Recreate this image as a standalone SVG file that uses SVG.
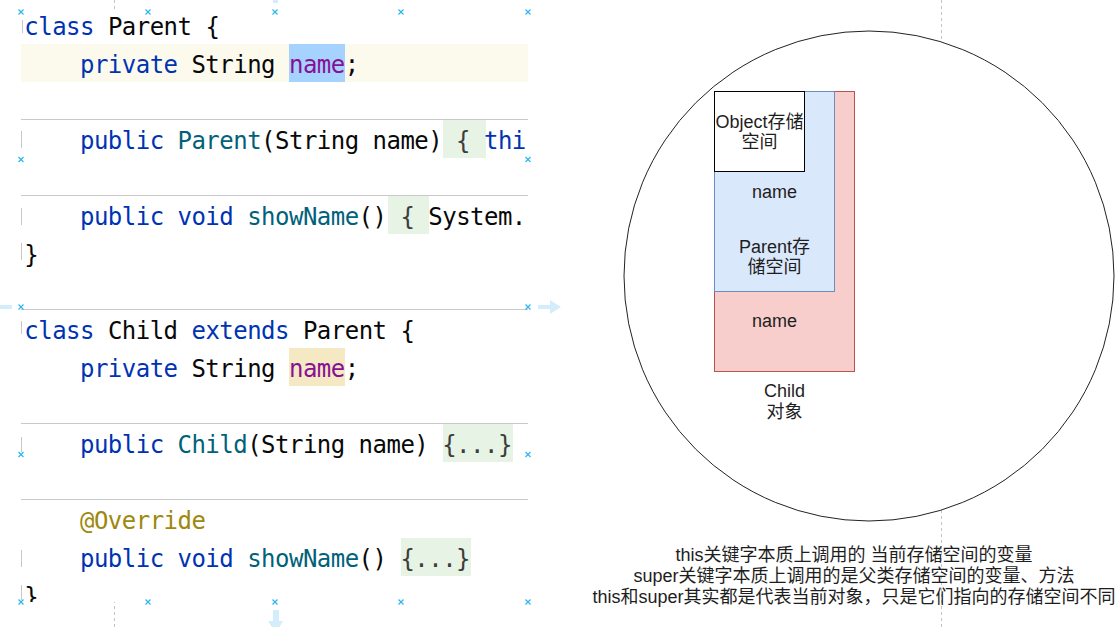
<svg xmlns="http://www.w3.org/2000/svg" width="1120" height="627" viewBox="0 0 1120 627">
  <style>
    .code { font-family: "DejaVu Sans Mono", "Liberation Mono", monospace; font-size: 24px; letter-spacing: -0.52px; fill: #080808; }
    .kw { fill: #0033b3; }
    .mt { fill: #00627a; }
    .fd { fill: #871094; }
    .an { fill: #9e880d; }
    .fo { fill: #3d3d3d; }
    .sep { stroke: #c9c9c9; stroke-width: 1; }
    .gut { stroke: #c8c8c8; stroke-width: 1; }
    .guide { stroke: #c4c4c4; stroke-width: 1; stroke-dasharray: 3 3; }
    .hx { stroke: #29b6f2; stroke-width: 1.2; fill: none; }
    .harrow { fill: #d3edfa; }
    .lbl { font-family: "Liberation Sans", "Noto Sans CJK SC", sans-serif; font-size: 18px; fill: #1e1e1e; text-anchor: middle; }
  </style>
  <defs>
    <clipPath id="codeClip"><rect x="21" y="12" width="507" height="590"/></clipPath>
    <path id="xm" d="M-2.5,-2.5 L2.5,2.5 M-2.5,2.5 L2.5,-2.5"/>
  </defs>

  <rect width="1120" height="627" fill="#ffffff"/>

  <!-- guides -->
  <g id="guides">
    <line class="guide" x1="114.5" y1="0" x2="114.5" y2="627"/>
    <line class="guide" x1="941.5" y1="0" x2="941.5" y2="627"/>
  </g>

  <!-- code screenshot -->
  <g id="code" clip-path="url(#codeClip)">
    <rect x="21" y="12" width="507" height="590" fill="#ffffff"/>
    <rect x="21" y="44" width="507" height="38" fill="#fcfaed"/>
    <rect x="289" y="44" width="56" height="38" fill="#a6d2ff"/>
    <rect x="289" y="348" width="56" height="38" fill="#f5e9c4"/>
    <rect x="443" y="120" width="43" height="38" fill="#e7f3e4"/>
    <rect x="388" y="196" width="41" height="38" fill="#e7f3e4"/>
    <rect x="443" y="424" width="70" height="38" fill="#e7f3e4"/>
    <rect x="401" y="538" width="70" height="38" fill="#e7f3e4"/>

    <line class="sep" x1="21" y1="119.5" x2="528" y2="119.5"/>
    <line class="sep" x1="21" y1="195.5" x2="528" y2="195.5"/>
    <line class="sep" x1="21" y1="309.5" x2="528" y2="309.5"/>
    <line class="sep" x1="21" y1="423.5" x2="528" y2="423.5"/>
    <line class="sep" x1="21" y1="499.5" x2="528" y2="499.5"/>

    <line class="gut" x1="22.5" y1="20" x2="22.5" y2="33"/>
    <line class="gut" x1="21.5" y1="131" x2="21.5" y2="148"/>
    <line class="gut" x1="21.5" y1="208" x2="21.5" y2="225"/>
    <line class="gut" x1="21.5" y1="243" x2="21.5" y2="260"/>
    <line class="gut" x1="21.5" y1="321" x2="21.5" y2="334"/>
    <line class="gut" x1="21.5" y1="437" x2="21.5" y2="452"/>
    <line class="gut" x1="21.5" y1="550" x2="21.5" y2="567"/>
    <line class="gut" x1="21.5" y1="585" x2="21.5" y2="600"/>

    <text class="code" x="24.3" y="34.8"><tspan class="kw">class</tspan> Parent {</text>
    <text class="code" x="80" y="72.8"><tspan class="kw">private</tspan> String <tspan class="fd">name</tspan>;</text>
    <text class="code" x="80" y="148.8"><tspan class="kw">public</tspan> <tspan class="mt">Parent</tspan>(String name) <tspan class="fo">{</tspan> <tspan class="kw">thi</tspan></text>
    <text class="code" x="80" y="224.8"><tspan class="kw">public</tspan> <tspan class="kw">void</tspan> <tspan class="mt">showName</tspan>() <tspan class="fo">{</tspan> System.</text>
    <text class="code" x="24.3" y="262.8">}</text>
    <text class="code" x="24.3" y="338.8"><tspan class="kw">class</tspan> Child <tspan class="kw">extends</tspan> Parent {</text>
    <text class="code" x="80" y="376.8"><tspan class="kw">private</tspan> String <tspan class="fd">name</tspan>;</text>
    <text class="code" x="80" y="452.8"><tspan class="kw">public</tspan> <tspan class="mt">Child</tspan>(String name) <tspan class="fo">{...}</tspan></text>
    <text class="code" x="80" y="528.8"><tspan class="an">@Override</tspan></text>
    <text class="code" x="80" y="566.8"><tspan class="kw">public</tspan> <tspan class="kw">void</tspan> <tspan class="mt">showName</tspan>() <tspan class="fo">{...}</tspan></text>
    <text class="code" x="24.3" y="604.8">}</text>
  </g>

  <!-- selection handles and hover arrows of the code image -->
  <g id="handles">
    <use href="#xm" class="hx" x="21" y="12"/>
    <use href="#xm" class="hx" x="148" y="12"/>
    <use href="#xm" class="hx" x="275" y="12"/>
    <use href="#xm" class="hx" x="401" y="12"/>
    <use href="#xm" class="hx" x="528" y="12"/>
    <use href="#xm" class="hx" x="21" y="159.5"/>
    <use href="#xm" class="hx" x="528" y="159.5"/>
    <use href="#xm" class="hx" x="21" y="307"/>
    <use href="#xm" class="hx" x="528" y="307"/>
    <use href="#xm" class="hx" x="21" y="454.5"/>
    <use href="#xm" class="hx" x="528" y="454.5"/>
    <use href="#xm" class="hx" x="21" y="602"/>
    <use href="#xm" class="hx" x="148" y="602"/>
    <use href="#xm" class="hx" x="275" y="602"/>
    <use href="#xm" class="hx" x="401" y="602"/>
    <use href="#xm" class="hx" x="528" y="602"/>
    <rect class="harrow" x="0" y="305" width="12" height="4"/>
    <path class="harrow" d="M538,305 L550,305 L550,300 L561,307 L550,314 L550,309 L538,309 Z"/>
    <path class="harrow" d="M273,610 L279,610 L279,621 L283,621 L276,633 L268,621 L273,621 Z"/>
    <rect class="harrow" x="273" y="0" width="5" height="3"/>
  </g>

  <!-- memory diagram -->
  <g id="heap">
    <circle cx="869" cy="276" r="245" fill="#ffffff" stroke="#222222" stroke-width="1"/>
  </g>
  <g id="child-space">
    <rect x="714.5" y="91.5" width="140" height="280" fill="#f8cecc" stroke="#b85450" stroke-width="1"/>
    <text class="lbl" x="774.5" y="327">name</text>
  </g>
  <g id="parent-space">
    <rect x="714.5" y="91.5" width="120" height="200" fill="#dae8fc" stroke="#6c8ebf" stroke-width="1"/>
    <text class="lbl" x="774.5" y="198">name</text>
    <text class="lbl" x="774.5" y="253">Parent存</text>
    <text class="lbl" x="774.5" y="273">储空间</text>
  </g>
  <g id="object-space">
    <rect x="714.5" y="91.5" width="90" height="80" fill="#ffffff" stroke="#000000" stroke-width="1"/>
    <text class="lbl" x="759.5" y="128">Object存储</text>
    <text class="lbl" x="759.5" y="148">空间</text>
  </g>
  <g id="child-label">
    <text class="lbl" x="784.5" y="397">Child</text>
    <text class="lbl" x="784.5" y="418">对象</text>
  </g>

  <g id="connectors"></g>

  <g id="notes">
    <text class="lbl" x="854" y="561">this关键字本质上调用的 当前存储空间的变量</text>
    <text class="lbl" x="854" y="582">super关键字本质上调用的是父类存储空间的变量、方法</text>
    <text class="lbl" x="854" y="603">this和super其实都是代表当前对象，只是它们指向的存储空间不同</text>
  </g>
</svg>
